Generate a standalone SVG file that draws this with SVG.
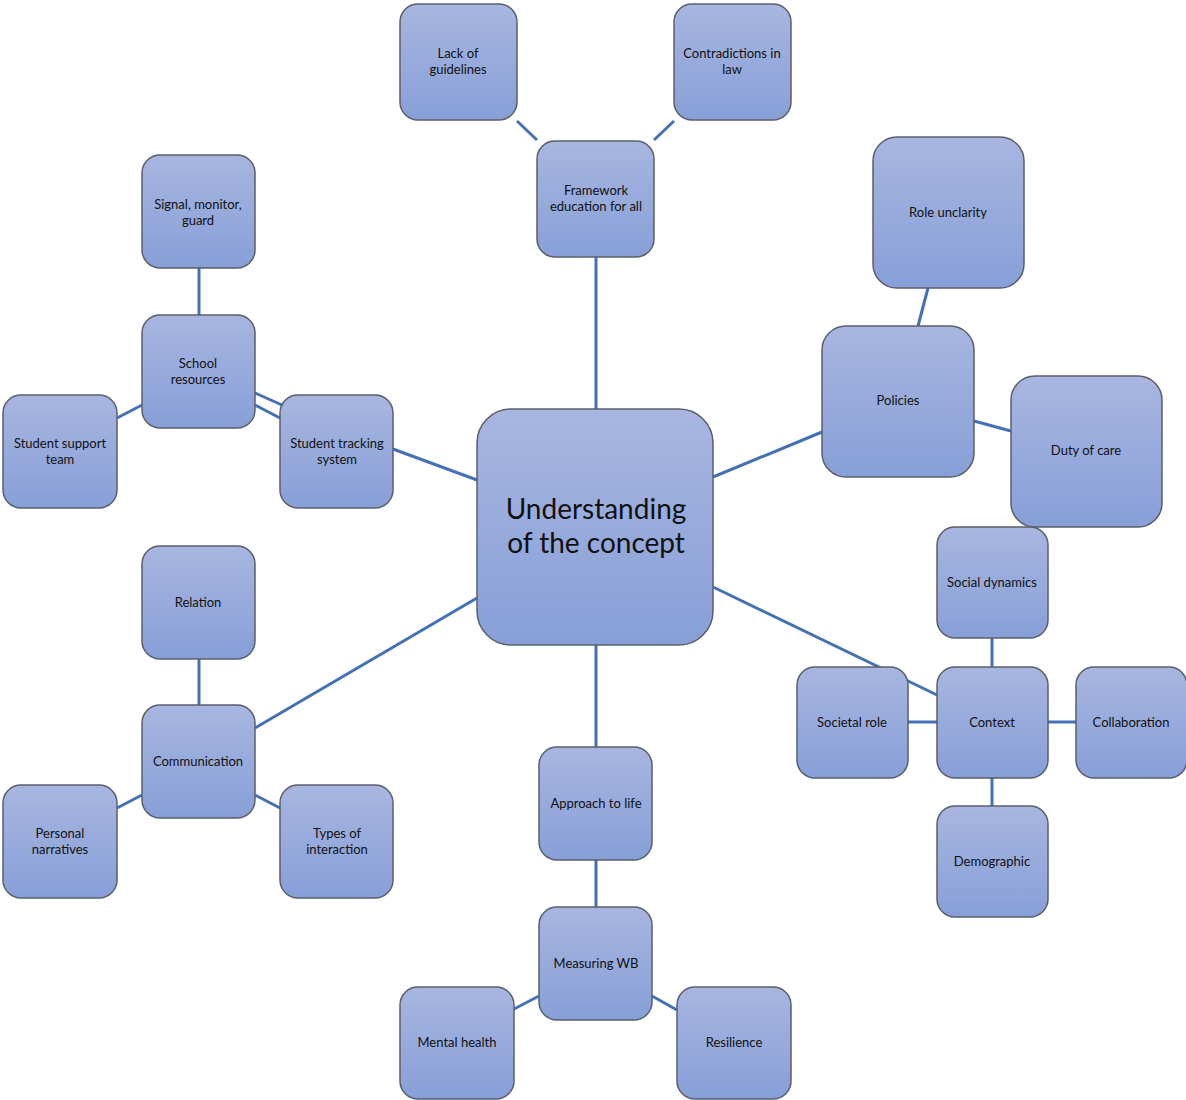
<svg xmlns="http://www.w3.org/2000/svg" width="1186" height="1100" viewBox="0 0 1186 1100">
<defs>
<linearGradient id="g" x1="0" y1="0" x2="0" y2="1">
<stop offset="0" stop-color="#a8b6e0"/>
<stop offset="1" stop-color="#879fd8"/>
</linearGradient>
<style>
.n{fill:url(#g);stroke:#5a5f6a;stroke-width:1.5}
.t{font-family:Lato,"Liberation Sans",sans-serif;font-size:13px;fill:#111;text-anchor:middle}
.big{font-size:28px}
.c line{stroke:#4470b8;stroke-width:3}
</style>
</defs>
<rect width="1186" height="1100" fill="#fff"/>
<g class="c" id="connectors">
<line x1="596" y1="257" x2="596" y2="409"/>
<line x1="517" y1="121" x2="537" y2="140"/>
<line x1="674" y1="121" x2="654" y2="140"/>
<line x1="199" y1="268" x2="199" y2="315"/>
<line x1="117" y1="418" x2="142" y2="405"/>
<line x1="255" y1="393" x2="282" y2="405"/>
<line x1="255" y1="405" x2="280" y2="418"/>
<line x1="393" y1="449" x2="477" y2="480"/>
<line x1="928" y1="288" x2="918" y2="326"/>
<line x1="974" y1="421" x2="1011" y2="431"/>
<line x1="713" y1="477" x2="822" y2="432"/>
<line x1="713" y1="587" x2="937" y2="695"/>
<line x1="992" y1="638" x2="992" y2="667"/>
<line x1="992" y1="778" x2="992" y2="806"/>
<line x1="908" y1="722" x2="937" y2="722"/>
<line x1="1048" y1="722" x2="1076" y2="722"/>
<line x1="596" y1="645" x2="596" y2="747"/>
<line x1="596" y1="860" x2="596" y2="907"/>
<line x1="514" y1="1009" x2="539" y2="996"/>
<line x1="652" y1="996" x2="677" y2="1010"/>
<line x1="199" y1="659" x2="199" y2="705"/>
<line x1="117" y1="808" x2="142" y2="795"/>
<line x1="255" y1="795" x2="280" y2="808"/>
<line x1="477" y1="598" x2="255" y2="728"/>
</g>
<g id="center"><rect class="n" x="477" y="409" width="236" height="236" rx="34"/><text class="t big" x="596" y="519">Understanding</text><text class="t big" x="596" y="553">of the concept</text></g>
<g id="framework"><rect class="n" x="537" y="141" width="117" height="116" rx="18"/><text class="t" x="596" y="195">Framework</text><text class="t" x="596" y="211">education for all</text></g>
<g id="lack"><rect class="n" x="400" y="4" width="117" height="116" rx="18"/><text class="t" x="458" y="58">Lack of</text><text class="t" x="458" y="74">guidelines</text></g>
<g id="contradictions"><rect class="n" x="674" y="4" width="117" height="116" rx="18"/><text class="t" x="732" y="58">Contradictions in</text><text class="t" x="732" y="74">law</text></g>
<g id="signal"><rect class="n" x="142" y="155" width="113" height="113" rx="18"/><text class="t" x="198" y="209">Signal, monitor,</text><text class="t" x="198" y="225">guard</text></g>
<g id="school"><rect class="n" x="142" y="315" width="113" height="113" rx="18"/><text class="t" x="198" y="368">School</text><text class="t" x="198" y="384">resources</text></g>
<g id="support"><rect class="n" x="3" y="395" width="114" height="113" rx="18"/><text class="t" x="60" y="448">Student support</text><text class="t" x="60" y="464">team</text></g>
<g id="tracking"><rect class="n" x="280" y="395" width="113" height="113" rx="18"/><text class="t" x="337" y="448">Student tracking</text><text class="t" x="337" y="464">system</text></g>
<g id="role"><rect class="n" x="873" y="137" width="151" height="151" rx="24"/><text class="t" x="948" y="217">Role unclarity</text></g>
<g id="policies"><rect class="n" x="822" y="326" width="152" height="151" rx="24"/><text class="t" x="898" y="405">Policies</text></g>
<g id="duty"><rect class="n" x="1011" y="376" width="151" height="151" rx="24"/><text class="t" x="1086" y="455">Duty of care</text></g>
<g id="social"><rect class="n" x="937" y="527" width="111" height="111" rx="18"/><text class="t" x="992" y="587">Social dynamics</text></g>
<g id="societal"><rect class="n" x="797" y="667" width="111" height="111" rx="18"/><text class="t" x="852" y="727">Societal role</text></g>
<g id="context"><rect class="n" x="937" y="667" width="111" height="111" rx="18"/><text class="t" x="992" y="727">Context</text></g>
<g id="collaboration"><rect class="n" x="1076" y="667" width="111" height="111" rx="18"/><text class="t" x="1131" y="727">Collaboration</text></g>
<g id="demographic"><rect class="n" x="937" y="806" width="111" height="111" rx="18"/><text class="t" x="992" y="866">Demographic</text></g>
<g id="approach"><rect class="n" x="539" y="747" width="113" height="113" rx="18"/><text class="t" x="596" y="808">Approach to life</text></g>
<g id="measuring"><rect class="n" x="539" y="907" width="113" height="113" rx="18"/><text class="t" x="596" y="968">Measuring WB</text></g>
<g id="mental"><rect class="n" x="400" y="987" width="114" height="112" rx="18"/><text class="t" x="457" y="1047">Mental health</text></g>
<g id="resilience"><rect class="n" x="677" y="987" width="114" height="112" rx="18"/><text class="t" x="734" y="1047">Resilience</text></g>
<g id="relation"><rect class="n" x="142" y="546" width="113" height="113" rx="18"/><text class="t" x="198" y="607">Relation</text></g>
<g id="communication"><rect class="n" x="142" y="705" width="113" height="113" rx="18"/><text class="t" x="198" y="766">Communication</text></g>
<g id="narratives"><rect class="n" x="3" y="785" width="114" height="113" rx="18"/><text class="t" x="60" y="838">Personal</text><text class="t" x="60" y="854">narratives</text></g>
<g id="types"><rect class="n" x="280" y="785" width="113" height="113" rx="18"/><text class="t" x="337" y="838">Types of</text><text class="t" x="337" y="854">interaction</text></g>
</svg>
